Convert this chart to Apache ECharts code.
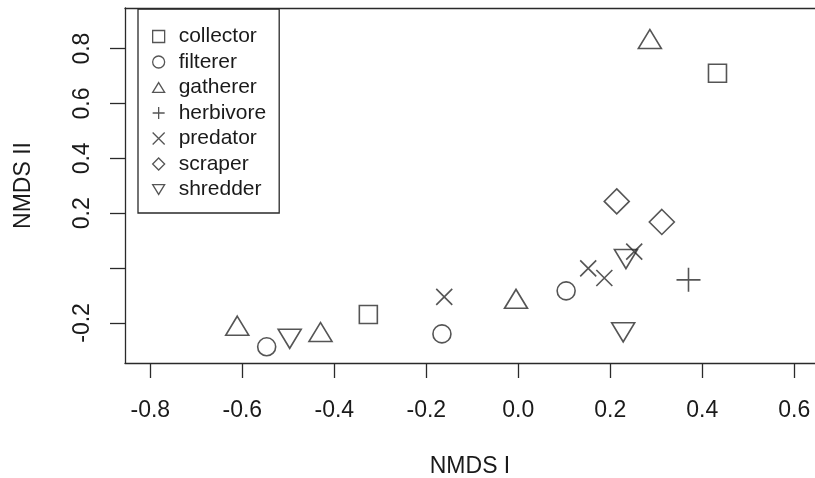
<!DOCTYPE html>
<html><head><meta charset="utf-8">
<script src="https://cdn.jsdelivr.net/npm/echarts@6/dist/echarts.min.js"></script>
<style>html,body{margin:0;padding:0;background:#fff}#c{width:815px;height:478px}</style>
</head><body><div id="c"></div>
<script>
// ---- data ----
const groups = ['collector', 'filterer', 'gatherer', 'herbivore', 'predator', 'scraper', 'shredder'];
const collectorX = [-0.326, 0.433];
const collectorY = [-0.169, 0.710];
const filtererX = [-0.547, -0.166, 0.104];
const filtererY = [-0.287, -0.240, -0.083];
const gathererX = [-0.611, -0.430, -0.005, 0.286];
const gathererY = [-0.221, -0.244, -0.123, 0.824];
const herbivoreX = [0.370];
const herbivoreY = [-0.043];
const predatorX = [-0.161, 0.152, 0.187, 0.252];
const predatorY = [-0.105, -0.001, -0.036, 0.060];
const scraperX = [0.214, 0.312];
const scraperY = [0.243, 0.168];
const shredderX = [-0.497, 0.228, 0.234];
const shredderY = [-0.247, -0.223, 0.044];
const xTicks = [-0.8, -0.6, -0.4, -0.2, 0.0, 0.2, 0.4, 0.6];
const yTicks = [-0.2, 0.0, 0.2, 0.4, 0.6, 0.8];
const yLabelValues = [-0.2, 0.2, 0.4, 0.6, 0.8];
const xName = 'NMDS I';
const yName = 'NMDS II';

// ---- styles ----
const INK = '#2a2a2a';
const TXT = '#1a1a1a';
const FONT = "'Liberation Sans', Arial, Helvetica, sans-serif";
const zip = (xs, ys) => xs.map((x, i) => [x, ys[i]]);
const hollow = { color: 'rgba(0,0,0,0)', borderColor: INK, borderWidth: 1.6 };
const symbolDefs = {
  collector: { symbol: 'rect', symbolSize: 18 },
  filterer: { symbol: 'circle', symbolSize: 18 },
  gatherer: { symbol: 'path://M1,0L2,1.64L0,1.64Z', symbolSize: [23, 19], symbolOffset: [0, -3] },
  herbivore: { symbol: 'path://M0,1L2,1M1,0L1,2', symbolSize: 24 },
  predator: { symbol: 'path://M0,0L2,2M2,0L0,2', symbolSize: 16 },
  scraper: { symbol: 'diamond', symbolSize: [25, 25] },
  shredder: { symbol: 'path://M0,0L2,0L1,1.64Z', symbolSize: [23, 19], symbolOffset: [0, 3] }
};
const seriesData = {
  collector: zip(collectorX, collectorY),
  filterer: zip(filtererX, filtererY),
  gatherer: zip(gathererX, gathererY),
  herbivore: zip(herbivoreX, herbivoreY),
  predator: zip(predatorX, predatorY),
  scraper: zip(scraperX, scraperY),
  shredder: zip(shredderX, shredderY)
};

const series = groups.map(g => Object.assign({
  name: g,
  type: 'scatter',
  data: seriesData[g],
  itemStyle: hollow,
  emphasis: { disabled: true },
  animation: false
}, symbolDefs[g]));

const axisLineStyle = { color: INK, width: 1.3 };
const chart = echarts.init(document.getElementById('c'), null, { renderer: 'canvas' });
chart.setOption({
  animation: false,
  backgroundColor: '#fff',
  textStyle: { fontFamily: FONT },
  grid: { left: 125, top: 8, width: 690, height: 355, show: false, containLabel: false, outerBoundsMode: 'none' },
  xAxis: [{
    type: 'value', min: -0.855, max: 0.645,
    name: xName, nameLocation: 'middle', nameGap: 92,
    nameTextStyle: { fontSize: 23, color: TXT, fontFamily: FONT },
    axisLine: { show: true, onZero: false, lineStyle: axisLineStyle },
    axisTick: { show: true, length: 15, customValues: xTicks, lineStyle: axisLineStyle },
    axisLabel: { customValues: xTicks, margin: 36, fontSize: 23, color: TXT, fontFamily: FONT,
      formatter: v => v.toFixed(1) },
    splitLine: { show: false }
  }, {
    type: 'value', min: -0.855, max: 0.645, position: 'top',
    axisLine: { show: true, onZero: false, lineStyle: axisLineStyle },
    axisTick: { show: false }, axisLabel: { show: false }, splitLine: { show: false }
  }],
  yAxis: {
    type: 'value', min: -0.346, max: 0.948,
    name: yName, nameLocation: 'middle', nameGap: 90, nameRotate: 90,
    nameTextStyle: { fontSize: 23, color: TXT, fontFamily: FONT },
    axisLine: { show: true, onZero: false, lineStyle: axisLineStyle },
    axisTick: { show: true, length: 15, customValues: yTicks, lineStyle: axisLineStyle },
    axisLabel: { customValues: yLabelValues, margin: 31, rotate: 90, fontSize: 23, color: TXT, fontFamily: FONT,
      formatter: v => v.toFixed(1) },
    splitLine: { show: false }
  },
  legend: {
    data: groups,
    orient: 'vertical',
    left: 138, top: 9,
    padding: [17, 13, 13, 14],
    itemGap: 4.5,
    itemWidth: 12, itemHeight: 12,
    symbolKeepAspect: true,
    borderColor: INK, borderWidth: 1.3,
    selectedMode: false,
    itemStyle: { color: 'rgba(0,0,0,0)', borderColor: INK, borderWidth: 1.3 },
    textStyle: { fontSize: 21, lineHeight: 21, color: TXT, fontFamily: FONT, padding: [0, 0, 0, 9] }
  },
  series: series
});
</script>
</body></html>
